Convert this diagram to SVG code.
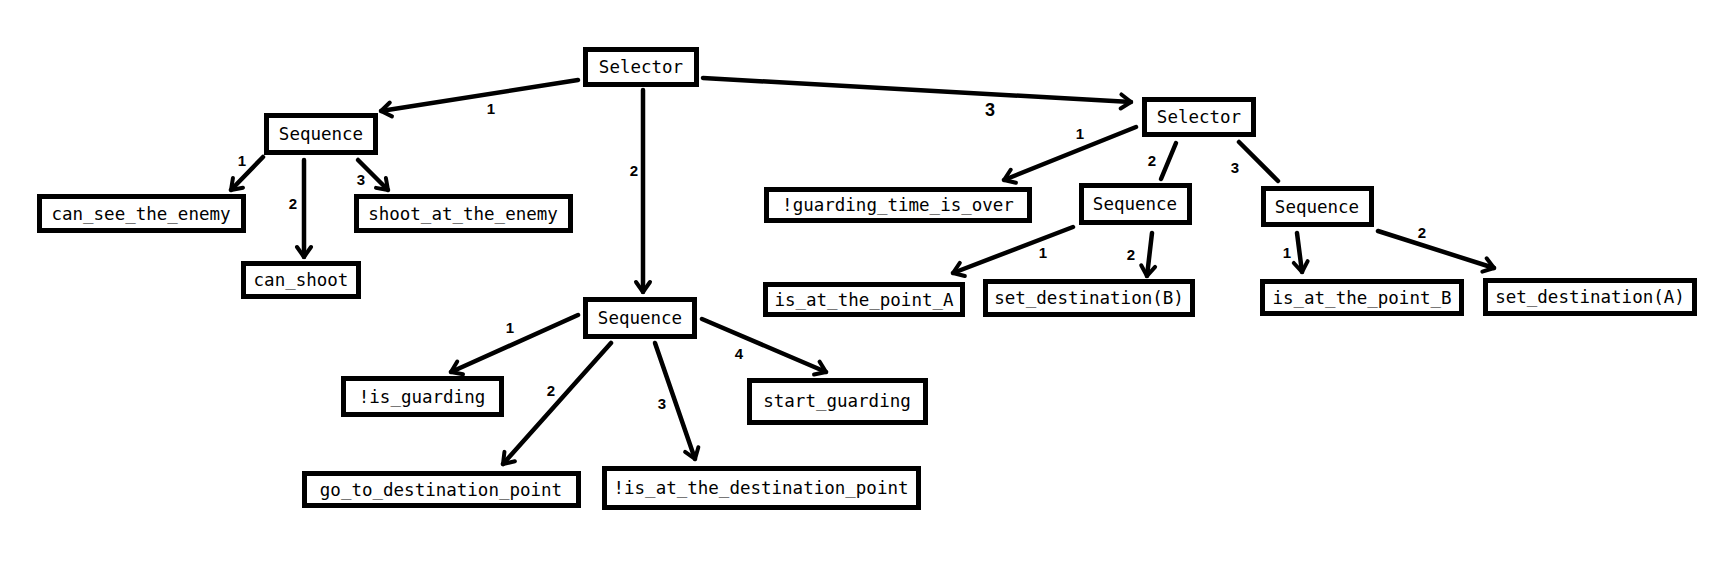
<svg xmlns="http://www.w3.org/2000/svg" width="1727" height="566" viewBox="0 0 1727 566">
<defs>
<style>
.box{fill:#fff;stroke:#000;stroke-width:5}
.t{font-family:"DejaVu Sans Mono","Liberation Mono",monospace;font-size:17.5px;fill:#000;text-anchor:middle;dominant-baseline:central}
.c{stroke:#000;stroke-width:4.5;stroke-linecap:round;fill:none}
.a{marker-end:url(#ah)}
.n{font-family:"Liberation Sans","DejaVu Sans",sans-serif;font-size:15px;font-weight:bold;fill:#000;text-anchor:middle;dominant-baseline:central}
</style>
<marker id="ah" viewBox="0 0 20 20" markerWidth="20" markerHeight="20" refX="15" refY="10" orient="auto" markerUnits="userSpaceOnUse">
<polyline points="5,3 15,10 5,17" fill="none" stroke="#000" stroke-width="4" stroke-linecap="round" stroke-linejoin="round"/>
</marker>
</defs>
<rect width="1727" height="566" fill="#fff"/>
<g id="connectors">
<line class="c a" x1="578" y1="80" x2="381" y2="111"/>
<line class="c a" x1="643" y1="90" x2="643" y2="292"/>
<line class="c a" x1="703" y1="78" x2="1131" y2="102"/>
<line class="c a" x1="263" y1="157" x2="231" y2="190"/>
<line class="c a" x1="304" y1="160" x2="304" y2="257"/>
<line class="c a" x1="358" y1="160" x2="388" y2="190"/>
<line class="c a" x1="578" y1="315" x2="451" y2="372"/>
<line class="c a" x1="611" y1="343" x2="503" y2="464"/>
<line class="c a" x1="655" y1="343" x2="695" y2="459"/>
<line class="c a" x1="702" y1="319" x2="826" y2="372"/>
<line class="c a" x1="1136" y1="127" x2="1004" y2="180"/>
<line class="c" x1="1176" y1="143" x2="1161" y2="179"/>
<line class="c" x1="1239" y1="142" x2="1278" y2="181"/>
<line class="c a" x1="1073" y1="227" x2="953" y2="273"/>
<line class="c a" x1="1152" y1="233" x2="1147" y2="276"/>
<line class="c a" x1="1297" y1="233" x2="1302" y2="272"/>
<line class="c a" x1="1378" y1="231" x2="1494" y2="268"/>
<text class="n" x="491" y="108">1</text>
<text class="n" x="634" y="170">2</text>
<text class="n" x="990" y="110" style="font-size:18px">3</text>
<text class="n" x="242" y="160">1</text>
<text class="n" x="293" y="203">2</text>
<text class="n" x="361" y="179">3</text>
<text class="n" x="510" y="327">1</text>
<text class="n" x="551" y="390">2</text>
<text class="n" x="662" y="403">3</text>
<text class="n" x="739" y="353">4</text>
<text class="n" x="1080" y="133">1</text>
<text class="n" x="1152" y="160">2</text>
<text class="n" x="1235" y="167">3</text>
<text class="n" x="1043" y="252">1</text>
<text class="n" x="1131" y="254">2</text>
<text class="n" x="1287" y="252">1</text>
<text class="n" x="1422" y="232">2</text>
</g>
<g id="selector_root"><rect class="box" x="585.5" y="49.5" width="111" height="35"/><text class="t" x="641" y="67">Selector</text></g>
<g id="sequence_left"><rect class="box" x="266.5" y="115.5" width="109" height="37"/><text class="t" x="321" y="134">Sequence</text></g>
<g id="can_see_the_enemy"><rect class="box" x="39.5" y="196.5" width="204" height="34"/><text class="t" x="141" y="214">can_see_the_enemy</text></g>
<g id="can_shoot"><rect class="box" x="243.5" y="263.5" width="115" height="33"/><text class="t" x="301" y="280">can_shoot</text></g>
<g id="shoot_at_the_enemy"><rect class="box" x="356.5" y="196.5" width="214" height="34"/><text class="t" x="463" y="214">shoot_at_the_enemy</text></g>
<g id="sequence_mid"><rect class="box" x="585.5" y="299.5" width="109" height="37"/><text class="t" x="640" y="318">Sequence</text></g>
<g id="not_is_guarding"><rect class="box" x="343.5" y="378.5" width="158" height="36"/><text class="t" x="422" y="397">!is_guarding</text></g>
<g id="go_to_destination_point"><rect class="box" x="304.5" y="473.5" width="274" height="32"/><text class="t" x="441" y="490">go_to_destination_point</text></g>
<g id="not_is_at_the_destination_point"><rect class="box" x="604.5" y="468.5" width="314" height="39"/><text class="t" x="761" y="488">!is_at_the_destination_point</text></g>
<g id="start_guarding"><rect class="box" x="749.5" y="380.5" width="176" height="42"/><text class="t" x="837" y="401">start_guarding</text></g>
<g id="selector_right"><rect class="box" x="1144.5" y="99.5" width="109" height="35"/><text class="t" x="1199" y="117">Selector</text></g>
<g id="not_guarding_time_is_over"><rect class="box" x="766.5" y="189.5" width="263" height="31"/><text class="t" x="898" y="205">!guarding_time_is_over</text></g>
<g id="sequence_r1"><rect class="box" x="1081.5" y="185.5" width="108" height="37"/><text class="t" x="1135" y="204">Sequence</text></g>
<g id="sequence_r2"><rect class="box" x="1263.5" y="188.5" width="108" height="36"/><text class="t" x="1317" y="207">Sequence</text></g>
<g id="is_at_the_point_A"><rect class="box" x="765.5" y="284.5" width="197" height="30"/><text class="t" x="864" y="300">is_at_the_point_A</text></g>
<g id="set_destination_B"><rect class="box" x="985.5" y="281.5" width="207" height="33"/><text class="t" x="1089" y="298">set_destination(B)</text></g>
<g id="is_at_the_point_B"><rect class="box" x="1262.5" y="281.5" width="199" height="32"/><text class="t" x="1362" y="298">is_at_the_point_B</text></g>
<g id="set_destination_A"><rect class="box" x="1485.5" y="280.5" width="209" height="33"/><text class="t" x="1590" y="297">set_destination(A)</text></g>
</svg>
